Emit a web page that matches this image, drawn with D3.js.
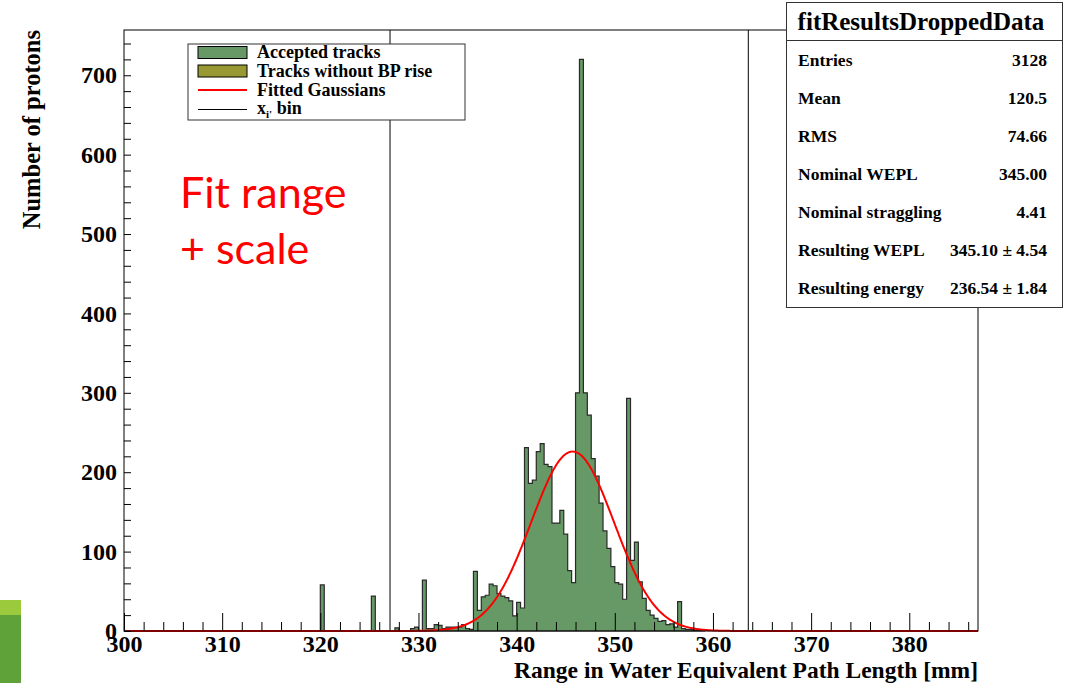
<!DOCTYPE html>
<html>
<head>
<meta charset="utf-8">
<script src="https://cdn.jsdelivr.net/npm/d3@7"></script>
<style>
  html, body { margin: 0; padding: 0; background: #fff; }
  svg { display: block; }
  .serif { font-family: "Liberation Serif", "Times New Roman", serif; font-weight: bold; }
</style>
</head>
<body>
<svg id="chart" width="1076" height="683"></svg>
<script>
// Histogram: bins of 0.4 mm starting at 318.0 mm
const binStart = 318.0;
const binWidth = 0.4;
const binCounts = [
  0, 0, 0, 0, 0, 58, 0, 0, 0, 0,
  0, 0, 0, 0, 0, 0, 0, 0, 44, 0,
  0, 0, 0, 0, 4, 0, 0, 0, 3, 5,
  0, 64, 3, 3, 8, 7, 3, 5, 5, 5,
  5, 8, 3, 2, 75, 26, 43, 45, 59, 57,
  47, 44, 42, 38, 19, 36, 29, 231, 186, 190,
  226, 236, 210, 207, 136, 136, 152, 122, 76, 61,
  300, 720, 300, 272, 217, 195, 161, 126, 104, 81,
  61, 59, 40, 293, 89, 112, 62, 41, 26, 20,
  16, 12, 13, 8, 9, 5, 37, 3, 2, 2,
  1, 1, 0
];

// Fitted Gaussian parameters
const fitMean = 345.7;
const fitSigma = 4.22;
const fitAmplitude = 226;

// Vertical x_i' bin lines
const binLines = [327.1, 363.6];

// Axis ticks
const xMajorTicks = [300, 310, 320, 330, 340, 350, 360, 370, 380];
const xMinorTicks = d3.range(302, 387, 2).filter(v => v % 10 !== 0);
const yMajorTicks = [0, 100, 200, 300, 400, 500, 600, 700];
const yMinorTicks = d3.range(20, 757, 20).filter(v => v % 100 !== 0);

// Legend and stats box
const legendLabels = ["Accepted tracks", "Tracks without BP rise", "Fitted Gaussians", "x_bin"];
const statsTitle = "fitResultsDroppedData";
const statLabels = ["Entries", "Mean", "RMS", "Nominal WEPL", "Nominal straggling", "Resulting WEPL", "Resulting energy"];
const statValues = ["3128", "120.5", "74.66", "345.00", "4.41", "345.10 \u00b1 4.54", "236.54 \u00b1 1.84"];

const acceptedColor = "#669966";
const noBpColor = "#999933";

const svg = d3.select("#chart");

// slide decoration bottom-left
svg.append("rect").attr("x", 0).attr("y", 600).attr("width", 21).attr("height", 15).attr("fill", "#9bcb3c");
svg.append("rect").attr("x", 0).attr("y", 615).attr("width", 21).attr("height", 68).attr("fill", "#5fa23a");

// Scales
const x = d3.scaleLinear().domain([300, 387]).range([124, 978]);
const y = d3.scaleLinear().domain([0, 757]).range([631, 30]);

// Histogram as a step polygon
const pts = [[binStart, 0]];
binCounts.forEach((c, i) => {
  const lo = binStart + i * binWidth;
  pts.push([lo, c], [lo + binWidth, c]);
});
pts.push([binStart + binCounts.length * binWidth, 0]);

const stepLine = d3.line().x(d => x(d[0])).y(d => y(d[1]));
svg.append("path")
  .attr("d", stepLine(pts) + "Z")
  .attr("fill", acceptedColor)
  .attr("stroke", "#2a2a2a")
  .attr("stroke-width", 1.2)
  .attr("stroke-linejoin", "miter");

// Gaussian fit curve
const gauss = v => fitAmplitude * Math.exp(-0.5 * Math.pow((v - fitMean) / fitSigma, 2));
const curveXs = d3.range(300, 387.01, 0.1);
svg.append("path")
  .datum(curveXs)
  .attr("fill", "none")
  .attr("stroke", "#ff0000")
  .attr("stroke-width", 2)
  .attr("d", d3.line().x(d => x(d)).y(d => y(gauss(d))));

// x_i' bin lines
svg.selectAll(".bin-line")
  .data(binLines)
  .enter()
  .append("line")
  .attr("class", "bin-line")
  .attr("x1", d => x(d)).attr("x2", d => x(d))
  .attr("y1", y(757)).attr("y2", y(0))
  .attr("stroke", "#000")
  .attr("stroke-width", 1);

// Axes
svg.append("g")
  .attr("transform", `translate(0,${y(0)})`)
  .call(d3.axisBottom(x).tickValues(xMajorTicks).tickSize(-18).tickPadding(4).tickFormat(d3.format("d")));
svg.append("g")
  .attr("transform", `translate(0,${y(0)})`)
  .call(d3.axisBottom(x).tickValues(xMinorTicks).tickSize(-9).tickFormat(""));

svg.append("g")
  .attr("transform", `translate(${x(300)},0)`)
  .call(d3.axisLeft(y).tickValues(yMajorTicks).tickSize(-7).tickPadding(7).tickFormat(d3.format("d")));
svg.append("g")
  .attr("transform", `translate(${x(300)},0)`)
  .call(d3.axisLeft(y).tickValues(yMinorTicks).tickSize(-7).tickFormat(""));

svg.selectAll(".domain").remove();
svg.selectAll(".tick line").attr("stroke", "#000").attr("stroke-width", 1);
svg.selectAll(".tick text")
  .attr("class", "serif")
  .style("font-size", "24px")
  .attr("fill", "#000");

// Frame
svg.append("rect")
  .attr("x", x(300)).attr("y", y(757))
  .attr("width", x(387) - x(300)).attr("height", y(0) - y(757))
  .attr("fill", "none")
  .attr("stroke", "#000")
  .attr("stroke-width", 1);

// Axis titles
svg.append("text")
  .attr("class", "serif")
  .attr("x", 978).attr("y", 678)
  .attr("text-anchor", "end")
  .style("font-size", "23.5px")
  .text("Range in Water Equivalent Path Length [mm]");

svg.append("text")
  .attr("class", "serif")
  .attr("transform", "translate(40,30) rotate(-90)")
  .attr("text-anchor", "end")
  .style("font-size", "24.5px")
  .text("Number of protons");

// Annotation
const note = svg.append("text")
  .attr("fill", "#ff0000")
  .style("font-family", "Lato, 'Open Sans', sans-serif")
  .style("font-size", "43px");
note.append("tspan").attr("x", 180).attr("y", 208).text("Fit range");
note.append("tspan").attr("x", 180).attr("y", 264).text("+ scale");

// Legend
const legend = svg.append("g");
legend.append("rect")
  .attr("x", 188).attr("y", 44).attr("width", 277).attr("height", 76)
  .attr("fill", "#fff").attr("stroke", "#333").attr("stroke-width", 1);
const rowY = [52.5, 71, 90, 109.5];
legend.append("rect").attr("x", 198).attr("y", rowY[0] - 6).attr("width", 49).attr("height", 12)
  .attr("fill", acceptedColor).attr("stroke", "#000");
legend.append("rect").attr("x", 198).attr("y", rowY[1] - 6).attr("width", 49).attr("height", 12)
  .attr("fill", noBpColor).attr("stroke", "#000");
legend.append("line").attr("x1", 198).attr("x2", 247).attr("y1", rowY[2]).attr("y2", rowY[2])
  .attr("stroke", "#ff0000").attr("stroke-width", 2);
legend.append("line").attr("x1", 198).attr("x2", 247).attr("y1", rowY[3]).attr("y2", rowY[3])
  .attr("stroke", "#000").attr("stroke-width", 1);
legendLabels.slice(0, 3).forEach((t, i) => {
  legend.append("text").attr("class", "serif")
    .attr("x", 257).attr("y", rowY[i] + 5.5)
    .style("font-size", "18px").text(t);
});
const xiText = legend.append("text").attr("class", "serif")
  .attr("x", 257).attr("y", rowY[3] + 4)
  .style("font-size", "18px");
xiText.append("tspan").text("x");
xiText.append("tspan").attr("dy", 4).style("font-size", "11px").text("i'");
xiText.append("tspan").attr("dy", -4).text(" bin");

// Stats box
const stats = svg.append("g");
stats.append("rect")
  .attr("x", 786.5).attr("y", 2.5).attr("width", 276).attr("height", 305)
  .attr("fill", "#fff").attr("stroke", "#333").attr("stroke-width", 1);
stats.append("line")
  .attr("x1", 786.5).attr("x2", 1062.5).attr("y1", 40.5).attr("y2", 40.5)
  .attr("stroke", "#333");
stats.append("text").attr("class", "serif")
  .attr("x", 921).attr("y", 30)
  .attr("text-anchor", "middle")
  .style("font-size", "25px")
  .text(statsTitle);
statLabels.forEach((t, i) => {
  stats.append("text").attr("class", "serif")
    .attr("x", 798).attr("y", 66 + i * 38)
    .style("font-size", "17.5px").text(t);
  stats.append("text").attr("class", "serif")
    .attr("x", 1047).attr("y", 66 + i * 38)
    .attr("text-anchor", "end")
    .style("font-size", "17.5px").text(statValues[i]);
});
</script>
</body>
</html>
